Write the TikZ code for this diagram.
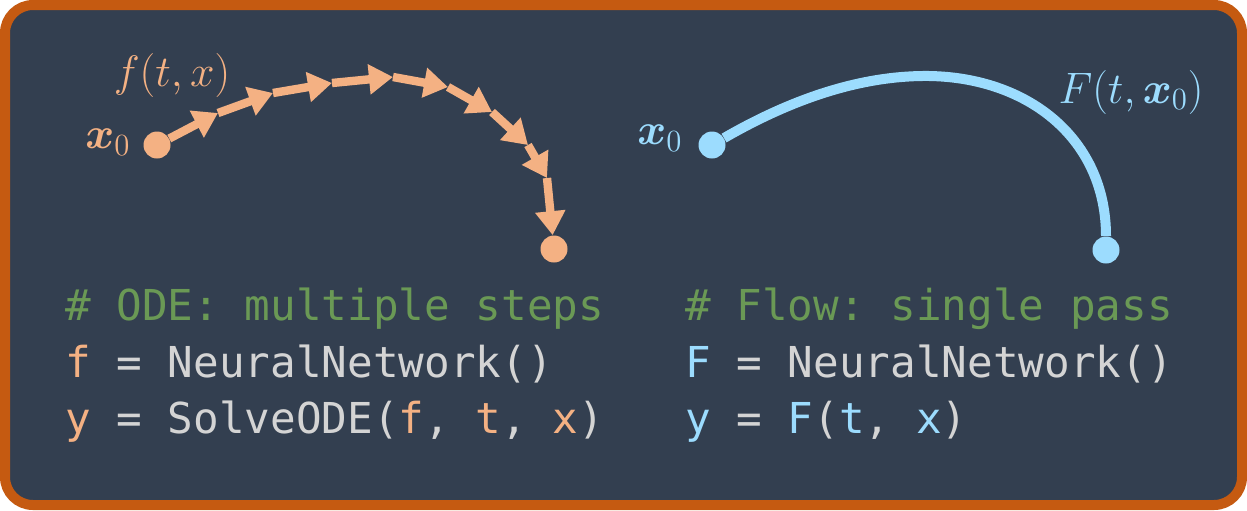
\RequirePackage{fix-cm}
\documentclass[tikz,border=0pt]{standalone}
\usepackage{amsmath}
\usepackage{bm}
\usepackage{fontspec}
\setmonofont{DejaVu Sans Mono}
\usetikzlibrary{arrows.meta}
\definecolor{panelbg}{HTML}{333F50}
\definecolor{frameorange}{HTML}{C55A11}
\definecolor{odeorange}{HTML}{F4B183}
\definecolor{flowblue}{HTML}{9CDCFE}
\definecolor{commentgreen}{HTML}{6A9955}
\definecolor{codegray}{HTML}{D4D4D4}
\newcommand{\vx}{\bm{x}}

\begin{document}
\begin{tikzpicture}[
    x=0.5pt, y=-0.5pt,
    dot/.style={circle, inner sep=0pt, minimum size=13.5pt},
    lbl/.style={inner sep=0pt, font=\fontsize{22}{26}\selectfont},
    code/.style={anchor=base west, inner sep=0pt, text=codegray,
        font=\fontsize{21.3}{26}\selectfont\ttfamily},
    stepline/.style={odeorange, line width=4.2pt, -{Triangle[length=12pt, width=14.5pt]}},
    flowline/.style={flowblue, line width=5pt}
]
\useasboundingbox (0,0) rectangle (1247,510);

% Dark panel with orange frame
\draw[frameorange, fill=panelbg, line width=5pt, rounded corners=14pt]
    (5,5) rectangle (1242,505);

% ODE: many small steps
\node[dot, fill=odeorange] (os) at (157,145) {};
\node[dot, fill=odeorange] (oe) at (554,249) {};
\coordinate (p1) at (218,113);
\coordinate (p2) at (273,93);
\coordinate (p3) at (332,83);
\coordinate (p4) at (393,77);
\coordinate (p5) at (448,87);
\coordinate (p6) at (492,112);
\coordinate (p7) at (528,145);
\coordinate (p8) at (547,178);
\foreach \a/\b in {os/p1, p1/p2, p2/p3, p3/p4, p4/p5, p5/p6, p6/p7, p7/p8, p8/oe}
    \draw[stepline] (\a) -- (\b);
\node[lbl, text=odeorange] (fx) at (172,75) {$f(t,x)$};
\node[lbl, text=odeorange] (ox) at (108,142) {$\vx_0$};

% Flow: one smooth pass
\node[dot, fill=flowblue] (fs) at (712,145) {};
\node[dot, fill=flowblue] (fe) at (1106,250) {};
\draw[flowline] (fs) .. controls (790,100) and (860,75) .. (930,76)
    .. controls (1030,78) and (1106,140) .. (fe);
\node[lbl, text=flowblue] (fl) at (1131,92) {$F(t,\vx_0)$};
\node[lbl, text=flowblue] (fx0) at (660,138) {$\vx_0$};

% Code, left column
\node[code] (c1) at (65,320) {\textcolor{commentgreen}{\# ODE: multiple steps}};
\node[code] (c2) at (65,377) {\textcolor{odeorange}{f} = NeuralNetwork()};
\node[code] (c3) at (65,433) {\textcolor{odeorange}{y} = SolveODE(\textcolor{odeorange}{f}, \textcolor{odeorange}{t}, \textcolor{odeorange}{x})};

% Code, right column
\node[code] (d1) at (685,320) {\textcolor{commentgreen}{\# Flow: single pass}};
\node[code] (d2) at (685,377) {\textcolor{flowblue}{F} = NeuralNetwork()};
\node[code] (d3) at (685,433) {\textcolor{flowblue}{y} = \textcolor{flowblue}{F}(\textcolor{flowblue}{t}, \textcolor{flowblue}{x})};

\end{tikzpicture}
\end{document}
